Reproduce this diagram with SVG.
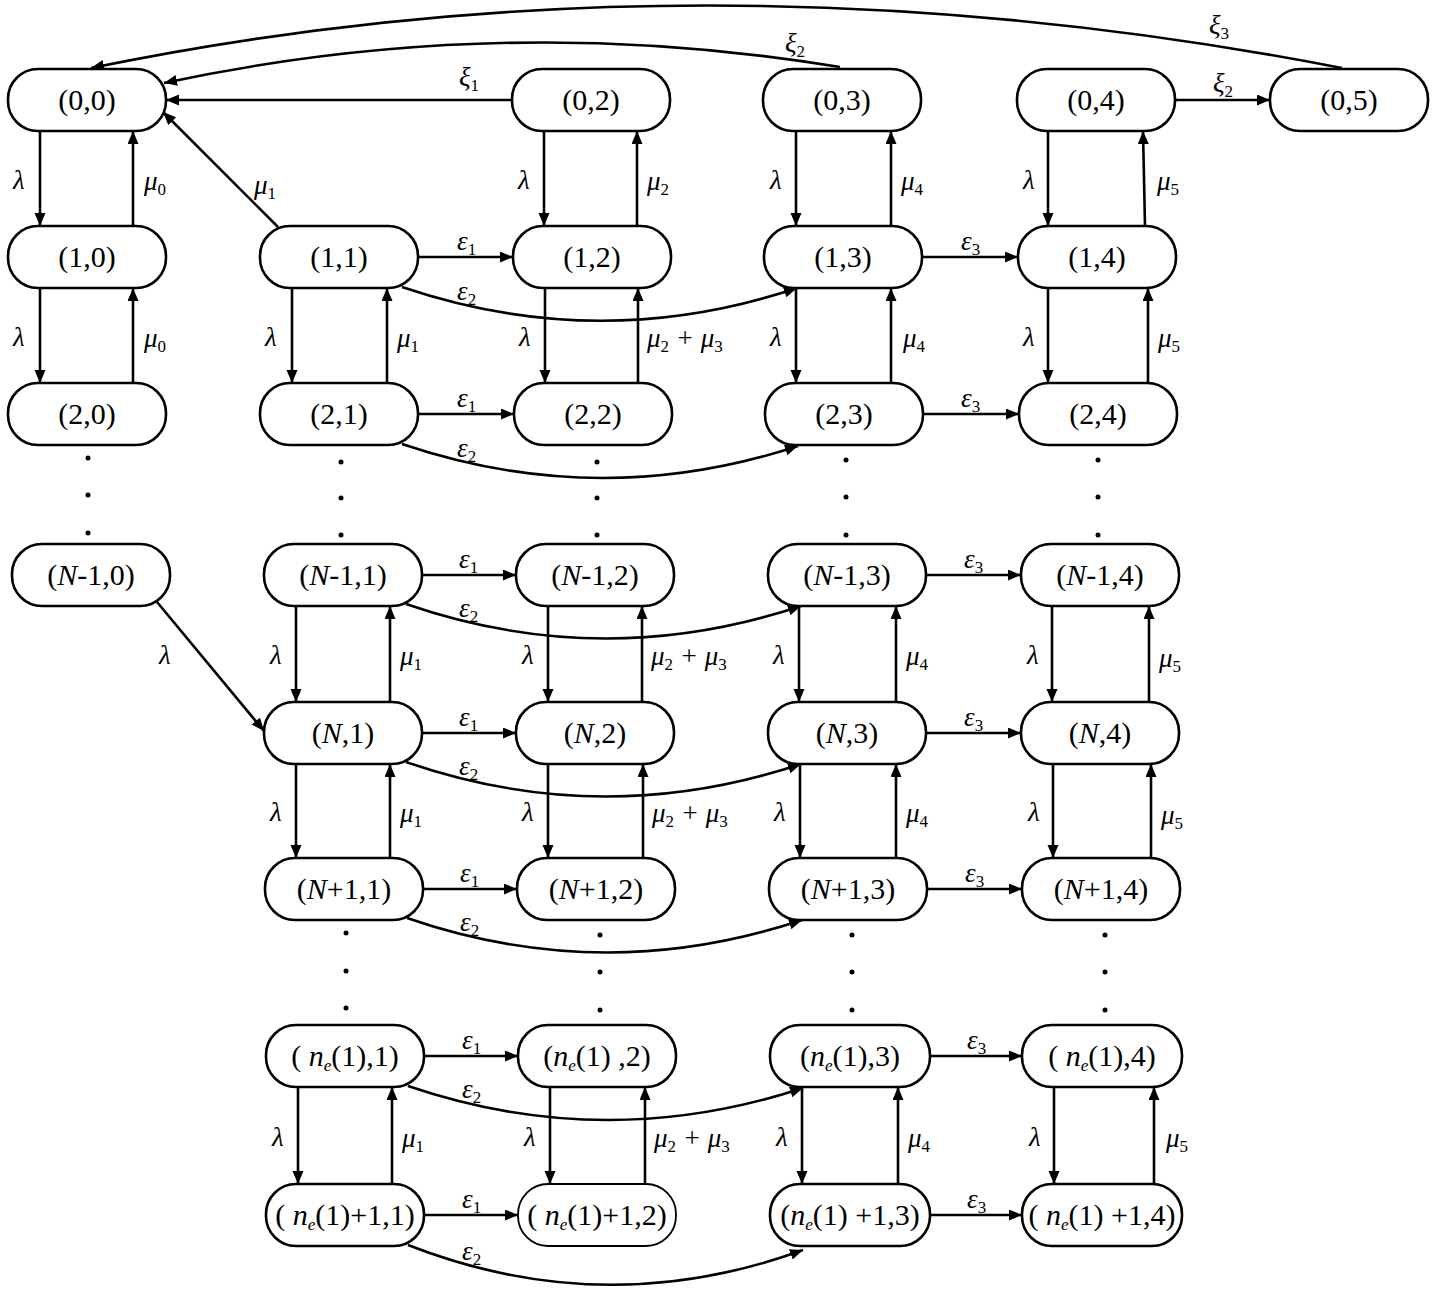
<svg xmlns="http://www.w3.org/2000/svg" width="1432" height="1290" viewBox="0 0 1432 1290">
<defs>
<marker id="ah" markerUnits="userSpaceOnUse" markerWidth="14" markerHeight="12" refX="13" refY="5.5" orient="auto">
<path d="M0,0 L13,5.5 L0,11 z" fill="#000"/>
</marker>
<style>
.box{fill:#fff;stroke:#000;stroke-width:2.6}
.thin{stroke-width:1.8}
.lbl{font-family:"Liberation Serif","Times New Roman",serif;font-size:30px;text-anchor:middle;fill:#000}
.g{font-family:"Liberation Serif","Times New Roman",serif;font-style:italic;font-size:27px;fill:#000}
.sub{font-style:normal;font-size:17px}
.subi{font-style:italic;font-size:17px}
.it{font-style:italic}
.ln{fill:none;stroke:#000;stroke-width:2.6;marker-end:url(#ah)}
.dot{fill:#000}
</style>
</defs>
<rect width="1432" height="1290" fill="#fff"/>

<g id="connectors">
<!-- top arcs -->
<path class="ln" d="M1342,68 Q700,-57 91,68"/>
<path class="ln" d="M840,67 Q500,11 164,83"/>
<line class="ln" x1="512" y1="100" x2="166" y2="100"/>
<line class="ln" x1="278" y1="227" x2="163" y2="112"/>
<line class="ln" x1="1175" y1="100" x2="1270" y2="100"/>
<line class="ln" x1="157" y1="602" x2="264" y2="731"/>

<!-- col0 verticals -->
<line class="ln" x1="40" y1="131" x2="40" y2="226"/>
<line class="ln" x1="133" y1="226" x2="133" y2="131"/>
<line class="ln" x1="40" y1="288" x2="40" y2="383"/>
<line class="ln" x1="133" y1="383" x2="133" y2="288"/>

<!-- col1 verticals -->
<line class="ln" x1="292" y1="288" x2="292" y2="383"/>
<line class="ln" x1="387" y1="383" x2="387" y2="288"/>
<line class="ln" x1="296" y1="606" x2="296" y2="702"/>
<line class="ln" x1="390" y1="702" x2="390" y2="606"/>
<line class="ln" x1="296" y1="764" x2="296" y2="858"/>
<line class="ln" x1="390" y1="858" x2="390" y2="764"/>
<line class="ln" x1="298" y1="1087" x2="298" y2="1184"/>
<line class="ln" x1="392" y1="1184" x2="392" y2="1087"/>

<!-- col2 verticals -->
<line class="ln" x1="544" y1="131" x2="544" y2="226"/>
<line class="ln" x1="637" y1="226" x2="637" y2="131"/>
<line class="ln" x1="545" y1="288" x2="545" y2="383"/>
<line class="ln" x1="638" y1="383" x2="638" y2="288"/>
<line class="ln" x1="548" y1="606" x2="548" y2="702"/>
<line class="ln" x1="642" y1="702" x2="642" y2="606"/>
<line class="ln" x1="548" y1="764" x2="548" y2="858"/>
<line class="ln" x1="643" y1="858" x2="643" y2="764"/>
<line class="ln" x1="550" y1="1087" x2="550" y2="1184"/>
<line class="ln" x1="645" y1="1184" x2="645" y2="1087"/>

<!-- col3 verticals -->
<line class="ln" x1="796" y1="131" x2="796" y2="226"/>
<line class="ln" x1="891" y1="226" x2="891" y2="131"/>
<line class="ln" x1="796" y1="288" x2="796" y2="383"/>
<line class="ln" x1="891" y1="383" x2="891" y2="288"/>
<line class="ln" x1="799" y1="606" x2="799" y2="702"/>
<line class="ln" x1="896" y1="702" x2="896" y2="606"/>
<line class="ln" x1="800" y1="764" x2="800" y2="858"/>
<line class="ln" x1="896" y1="858" x2="896" y2="764"/>
<line class="ln" x1="802" y1="1087" x2="802" y2="1184"/>
<line class="ln" x1="898" y1="1184" x2="898" y2="1087"/>

<!-- col4 verticals -->
<line class="ln" x1="1048" y1="131" x2="1048" y2="226"/>
<line class="ln" x1="1145" y1="226" x2="1143" y2="131"/>
<line class="ln" x1="1048" y1="288" x2="1048" y2="383"/>
<line class="ln" x1="1148" y1="383" x2="1148" y2="288"/>
<line class="ln" x1="1052" y1="606" x2="1052" y2="702"/>
<line class="ln" x1="1149" y1="702" x2="1149" y2="606"/>
<line class="ln" x1="1053" y1="764" x2="1053" y2="858"/>
<line class="ln" x1="1151" y1="858" x2="1151" y2="764"/>
<line class="ln" x1="1054" y1="1087" x2="1054" y2="1184"/>
<line class="ln" x1="1154" y1="1184" x2="1154" y2="1087"/>

<!-- horizontals eps1 / eps3 -->
<line class="ln" x1="418" y1="257" x2="513" y2="257"/>
<line class="ln" x1="922" y1="257" x2="1018" y2="257"/>
<line class="ln" x1="418" y1="414" x2="514" y2="414"/>
<line class="ln" x1="923" y1="414" x2="1019" y2="414"/>
<line class="ln" x1="422" y1="575" x2="516" y2="575"/>
<line class="ln" x1="926" y1="575" x2="1021" y2="575"/>
<line class="ln" x1="422" y1="733" x2="516" y2="733"/>
<line class="ln" x1="926" y1="733" x2="1021" y2="733"/>
<line class="ln" x1="423" y1="889" x2="517" y2="889"/>
<line class="ln" x1="927" y1="889" x2="1022" y2="889"/>
<line class="ln" x1="424" y1="1056" x2="518" y2="1056"/>
<line class="ln" x1="930" y1="1056" x2="1022" y2="1056"/>
<line class="ln" x1="424" y1="1215" x2="518" y2="1215"/>
<line class="ln" x1="930" y1="1215" x2="1022" y2="1215"/>

<!-- eps2 curves -->
<path class="ln" d="M402,287 Q600,354 797,288"/>
<path class="ln" d="M402,444 Q600,511 798,446"/>
<path class="ln" d="M406,604 Q603,672 801,606"/>
<path class="ln" d="M406,762 Q603,830 801,764"/>
<path class="ln" d="M407,918 Q604,986 802,920"/>
<path class="ln" d="M408,1086 Q605,1153 803,1088"/>
<path class="ln" d="M408,1245 Q605,1322 803,1250"/>

<!-- labels -->
<text class="g" x="1209" y="34">ξ<tspan class="sub" dy="5">3</tspan></text>
<text class="g" x="785" y="52">ξ<tspan class="sub" dy="5">2</tspan></text>
<text class="g" x="459" y="86">ξ<tspan class="sub" dy="5">1</tspan></text>
<text class="g" x="1213" y="92">ξ<tspan class="sub" dy="5">2</tspan></text>
<text class="g" x="254" y="194">μ<tspan class="sub" dy="5">1</tspan></text>
<text class="g" x="159" y="664">λ</text>

<text class="g" x="13" y="189">λ</text>
<text class="g" x="144" y="190">μ<tspan class="sub" dy="5">0</tspan></text>
<text class="g" x="13" y="346">λ</text>
<text class="g" x="144" y="347">μ<tspan class="sub" dy="5">0</tspan></text>

<text class="g" x="265" y="346">λ</text>
<text class="g" x="397" y="347">μ<tspan class="sub" dy="5">1</tspan></text>
<text class="g" x="270" y="664">λ</text>
<text class="g" x="400" y="665">μ<tspan class="sub" dy="5">1</tspan></text>
<text class="g" x="270" y="821">λ</text>
<text class="g" x="400" y="822">μ<tspan class="sub" dy="5">1</tspan></text>
<text class="g" x="272" y="1146">λ</text>
<text class="g" x="402" y="1147">μ<tspan class="sub" dy="5">1</tspan></text>

<text class="g" x="518" y="189">λ</text>
<text class="g" x="647" y="190">μ<tspan class="sub" dy="5">2</tspan></text>
<text class="g" x="519" y="346">λ</text>
<text class="g" x="647" y="347">μ<tspan class="sub" dy="5">2</tspan><tspan dy="-5"> + μ</tspan><tspan class="sub" dy="5">3</tspan></text>
<text class="g" x="522" y="664">λ</text>
<text class="g" x="651" y="665">μ<tspan class="sub" dy="5">2</tspan><tspan dy="-5"> + μ</tspan><tspan class="sub" dy="5">3</tspan></text>
<text class="g" x="522" y="821">λ</text>
<text class="g" x="652" y="822">μ<tspan class="sub" dy="5">2</tspan><tspan dy="-5"> + μ</tspan><tspan class="sub" dy="5">3</tspan></text>
<text class="g" x="524" y="1146">λ</text>
<text class="g" x="654" y="1147">μ<tspan class="sub" dy="5">2</tspan><tspan dy="-5"> + μ</tspan><tspan class="sub" dy="5">3</tspan></text>

<text class="g" x="770" y="189">λ</text>
<text class="g" x="901" y="190">μ<tspan class="sub" dy="5">4</tspan></text>
<text class="g" x="770" y="346">λ</text>
<text class="g" x="903" y="347">μ<tspan class="sub" dy="5">4</tspan></text>
<text class="g" x="773" y="664">λ</text>
<text class="g" x="906" y="665">μ<tspan class="sub" dy="5">4</tspan></text>
<text class="g" x="774" y="821">λ</text>
<text class="g" x="906" y="822">μ<tspan class="sub" dy="5">4</tspan></text>
<text class="g" x="776" y="1146">λ</text>
<text class="g" x="908" y="1147">μ<tspan class="sub" dy="5">4</tspan></text>

<text class="g" x="1023" y="189">λ</text>
<text class="g" x="1157" y="190">μ<tspan class="sub" dy="5">5</tspan></text>
<text class="g" x="1023" y="346">λ</text>
<text class="g" x="1158" y="347">μ<tspan class="sub" dy="5">5</tspan></text>
<text class="g" x="1027" y="664">λ</text>
<text class="g" x="1159" y="667">μ<tspan class="sub" dy="5">5</tspan></text>
<text class="g" x="1028" y="821">λ</text>
<text class="g" x="1161" y="824">μ<tspan class="sub" dy="5">5</tspan></text>
<text class="g" x="1029" y="1146">λ</text>
<text class="g" x="1166" y="1147">μ<tspan class="sub" dy="5">5</tspan></text>

<text class="g" x="457" y="250">ε<tspan class="sub" dy="5">1</tspan></text>
<text class="g" x="961" y="250">ε<tspan class="sub" dy="5">3</tspan></text>
<text class="g" x="457" y="300">ε<tspan class="sub" dy="5">2</tspan></text>
<text class="g" x="457" y="407">ε<tspan class="sub" dy="5">1</tspan></text>
<text class="g" x="961" y="407">ε<tspan class="sub" dy="5">3</tspan></text>
<text class="g" x="457" y="457">ε<tspan class="sub" dy="5">2</tspan></text>
<text class="g" x="459" y="568">ε<tspan class="sub" dy="5">1</tspan></text>
<text class="g" x="964" y="568">ε<tspan class="sub" dy="5">3</tspan></text>
<text class="g" x="459" y="617">ε<tspan class="sub" dy="5">2</tspan></text>
<text class="g" x="459" y="726">ε<tspan class="sub" dy="5">1</tspan></text>
<text class="g" x="964" y="726">ε<tspan class="sub" dy="5">3</tspan></text>
<text class="g" x="459" y="775">ε<tspan class="sub" dy="5">2</tspan></text>
<text class="g" x="460" y="882">ε<tspan class="sub" dy="5">1</tspan></text>
<text class="g" x="965" y="882">ε<tspan class="sub" dy="5">3</tspan></text>
<text class="g" x="460" y="931">ε<tspan class="sub" dy="5">2</tspan></text>
<text class="g" x="462" y="1049">ε<tspan class="sub" dy="5">1</tspan></text>
<text class="g" x="967" y="1049">ε<tspan class="sub" dy="5">3</tspan></text>
<text class="g" x="462" y="1098">ε<tspan class="sub" dy="5">2</tspan></text>
<text class="g" x="462" y="1208">ε<tspan class="sub" dy="5">1</tspan></text>
<text class="g" x="967" y="1208">ε<tspan class="sub" dy="5">3</tspan></text>
<text class="g" x="462" y="1260">ε<tspan class="sub" dy="5">2</tspan></text>
</g>

<g id="dots">
<circle class="dot" cx="88" cy="458" r="2.5"/><circle class="dot" cx="88" cy="495" r="2.5"/><circle class="dot" cx="88" cy="533" r="2.5"/>
<circle class="dot" cx="341" cy="462" r="2.5"/><circle class="dot" cx="341" cy="498" r="2.5"/><circle class="dot" cx="341" cy="535" r="2.5"/>
<circle class="dot" cx="597" cy="462" r="2.5"/><circle class="dot" cx="597" cy="498" r="2.5"/><circle class="dot" cx="597" cy="535" r="2.5"/>
<circle class="dot" cx="846" cy="460" r="2.5"/><circle class="dot" cx="846" cy="497" r="2.5"/><circle class="dot" cx="846" cy="535" r="2.5"/>
<circle class="dot" cx="1098" cy="460" r="2.5"/><circle class="dot" cx="1098" cy="497" r="2.5"/><circle class="dot" cx="1098" cy="535" r="2.5"/>
<circle class="dot" cx="346" cy="933" r="2.5"/><circle class="dot" cx="346" cy="971" r="2.5"/><circle class="dot" cx="346" cy="1008" r="2.5"/>
<circle class="dot" cx="600" cy="935" r="2.5"/><circle class="dot" cx="600" cy="972" r="2.5"/><circle class="dot" cx="600" cy="1010" r="2.5"/>
<circle class="dot" cx="852" cy="935" r="2.5"/><circle class="dot" cx="852" cy="972" r="2.5"/><circle class="dot" cx="852" cy="1010" r="2.5"/>
<circle class="dot" cx="1105" cy="935" r="2.5"/><circle class="dot" cx="1105" cy="972" r="2.5"/><circle class="dot" cx="1105" cy="1010" r="2.5"/>
</g>

<g id="n0_0"><rect class="box" x="8" y="69" width="158" height="62" rx="30"/><text class="lbl" x="87" y="110">(0,0)</text></g>
<g id="n0_2"><rect class="box" x="512" y="69" width="158" height="62" rx="30"/><text class="lbl" x="591" y="110">(0,2)</text></g>
<g id="n0_3"><rect class="box" x="763" y="69" width="158" height="62" rx="30"/><text class="lbl" x="842" y="110">(0,3)</text></g>
<g id="n0_4"><rect class="box" x="1017" y="69" width="158" height="62" rx="30"/><text class="lbl" x="1096" y="110">(0,4)</text></g>
<g id="n0_5"><rect class="box" x="1270" y="69" width="158" height="62" rx="30"/><text class="lbl" x="1349" y="110">(0,5)</text></g>

<g id="n1_0"><rect class="box" x="8" y="226" width="158" height="62" rx="30"/><text class="lbl" x="87" y="267">(1,0)</text></g>
<g id="n1_1"><rect class="box" x="260" y="226" width="158" height="62" rx="30"/><text class="lbl" x="339" y="267">(1,1)</text></g>
<g id="n1_2"><rect class="box" x="513" y="226" width="158" height="62" rx="30"/><text class="lbl" x="592" y="267">(1,2)</text></g>
<g id="n1_3"><rect class="box" x="764" y="226" width="158" height="62" rx="30"/><text class="lbl" x="843" y="267">(1,3)</text></g>
<g id="n1_4"><rect class="box" x="1018" y="226" width="158" height="62" rx="30"/><text class="lbl" x="1097" y="267">(1,4)</text></g>

<g id="n2_0"><rect class="box" x="8" y="383" width="158" height="62" rx="30"/><text class="lbl" x="87" y="424">(2,0)</text></g>
<g id="n2_1"><rect class="box" x="260" y="383" width="158" height="62" rx="30"/><text class="lbl" x="339" y="424">(2,1)</text></g>
<g id="n2_2"><rect class="box" x="514" y="383" width="158" height="62" rx="30"/><text class="lbl" x="593" y="424">(2,2)</text></g>
<g id="n2_3"><rect class="box" x="765" y="383" width="158" height="62" rx="30"/><text class="lbl" x="844" y="424">(2,3)</text></g>
<g id="n2_4"><rect class="box" x="1019" y="383" width="158" height="62" rx="30"/><text class="lbl" x="1098" y="424">(2,4)</text></g>

<g id="nN1_0"><rect class="box" x="12" y="544" width="158" height="62" rx="30"/><text class="lbl" x="91" y="585">(<tspan class="it">N</tspan>-1,0)</text></g>
<g id="nN1_1"><rect class="box" x="264" y="544" width="158" height="62" rx="30"/><text class="lbl" x="343" y="585">(<tspan class="it">N</tspan>-1,1)</text></g>
<g id="nN1_2"><rect class="box" x="516" y="544" width="158" height="62" rx="30"/><text class="lbl" x="595" y="585">(<tspan class="it">N</tspan>-1,2)</text></g>
<g id="nN1_3"><rect class="box" x="768" y="544" width="158" height="62" rx="30"/><text class="lbl" x="847" y="585">(<tspan class="it">N</tspan>-1,3)</text></g>
<g id="nN1_4"><rect class="box" x="1021" y="544" width="158" height="62" rx="30"/><text class="lbl" x="1100" y="585">(<tspan class="it">N</tspan>-1,4)</text></g>

<g id="nN_1"><rect class="box" x="264" y="702" width="158" height="62" rx="30"/><text class="lbl" x="343" y="743">(<tspan class="it">N</tspan>,1)</text></g>
<g id="nN_2"><rect class="box" x="516" y="702" width="158" height="62" rx="30"/><text class="lbl" x="595" y="743">(<tspan class="it">N</tspan>,2)</text></g>
<g id="nN_3"><rect class="box" x="768" y="702" width="158" height="62" rx="30"/><text class="lbl" x="847" y="743">(<tspan class="it">N</tspan>,3)</text></g>
<g id="nN_4"><rect class="box" x="1021" y="702" width="158" height="62" rx="30"/><text class="lbl" x="1100" y="743">(<tspan class="it">N</tspan>,4)</text></g>

<g id="nNp_1"><rect class="box" x="265" y="858" width="158" height="62" rx="30"/><text class="lbl" x="344" y="899">(<tspan class="it">N</tspan>+1,1)</text></g>
<g id="nNp_2"><rect class="box" x="517" y="858" width="158" height="62" rx="30"/><text class="lbl" x="596" y="899">(<tspan class="it">N</tspan>+1,2)</text></g>
<g id="nNp_3"><rect class="box" x="769" y="858" width="158" height="62" rx="30"/><text class="lbl" x="848" y="899">(<tspan class="it">N</tspan>+1,3)</text></g>
<g id="nNp_4"><rect class="box" x="1022" y="858" width="158" height="62" rx="30"/><text class="lbl" x="1101" y="899">(<tspan class="it">N</tspan>+1,4)</text></g>

<g id="ne_1"><rect class="box" x="266" y="1025" width="158" height="62" rx="30"/><text class="lbl" x="345" y="1066">( <tspan class="it">n</tspan><tspan class="subi" dy="5">e</tspan><tspan dy="-5">(1),1)</tspan></text></g>
<g id="ne_2"><rect class="box" x="518" y="1025" width="158" height="62" rx="30"/><text class="lbl" x="597" y="1066">(<tspan class="it">n</tspan><tspan class="subi" dy="5">e</tspan><tspan dy="-5">(1) ,2)</tspan></text></g>
<g id="ne_3"><rect class="box" x="770" y="1025" width="160" height="62" rx="30"/><text class="lbl" x="850" y="1066">(<tspan class="it">n</tspan><tspan class="subi" dy="5">e</tspan><tspan dy="-5">(1),3)</tspan></text></g>
<g id="ne_4"><rect class="box" x="1022" y="1025" width="160" height="62" rx="30"/><text class="lbl" x="1102" y="1066">( <tspan class="it">n</tspan><tspan class="subi" dy="5">e</tspan><tspan dy="-5">(1),4)</tspan></text></g>

<g id="ne1_1"><rect class="box" x="266" y="1184" width="158" height="62" rx="30"/><text class="lbl" x="345" y="1225">( <tspan class="it">n</tspan><tspan class="subi" dy="5">e</tspan><tspan dy="-5">(1)+1,1)</tspan></text></g>
<g id="ne1_2"><rect class="box thin" x="518" y="1184" width="158" height="62" rx="30"/><text class="lbl" x="597" y="1225">( <tspan class="it">n</tspan><tspan class="subi" dy="5">e</tspan><tspan dy="-5">(1)+1,2)</tspan></text></g>
<g id="ne1_3"><rect class="box" x="770" y="1184" width="160" height="62" rx="30"/><text class="lbl" x="850" y="1225">(<tspan class="it">n</tspan><tspan class="subi" dy="5">e</tspan><tspan dy="-5">(1) +1,3)</tspan></text></g>
<g id="ne1_4"><rect class="box" x="1022" y="1184" width="160" height="62" rx="30"/><text class="lbl" x="1102" y="1225">( <tspan class="it">n</tspan><tspan class="subi" dy="5">e</tspan><tspan dy="-5">(1) +1,4)</tspan></text></g>
</svg>
